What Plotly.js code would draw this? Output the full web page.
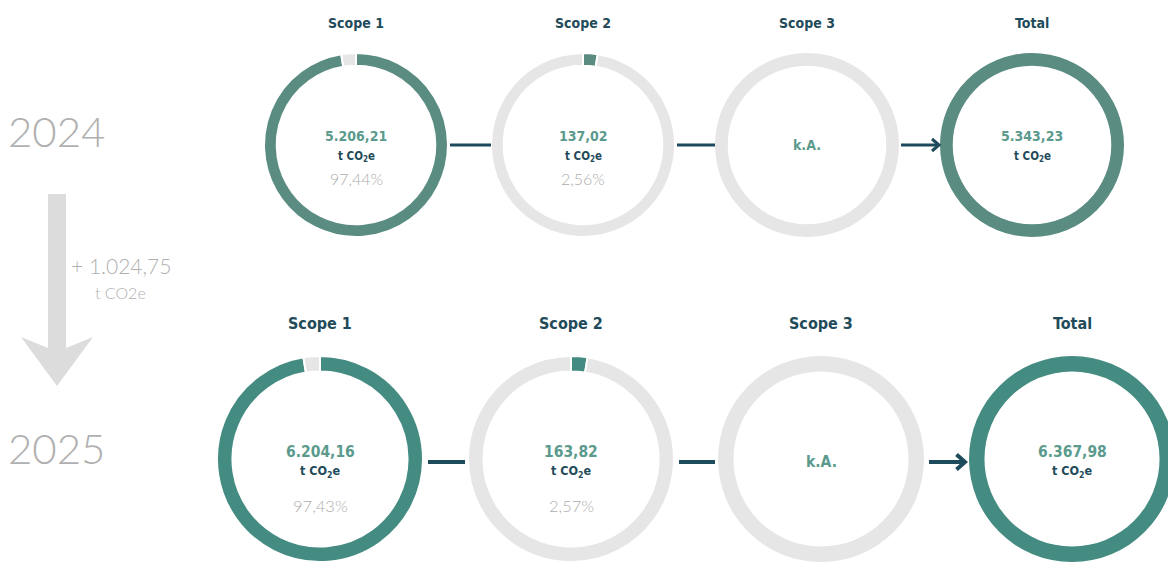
<!DOCTYPE html>
<html>
<head>
<meta charset="utf-8">
<script src="https://cdn.plot.ly/plotly-3.0.1.min.js"></script>
<style>
  html, body { margin: 0; padding: 0; background: #ffffff; overflow: hidden; }
  #chart { width: 1190px; height: 562px; }
</style>
</head>
<body>
<div id="chart"></div>
<script>
// ---- data ----
const scopes = ['Scope 1', 'Scope 2', 'Scope 3', 'Total'];
const years = ['2024', '2025'];
const emissions2024 = [5206.21, 137.02, null, 5343.23];
const emissions2025 = [6204.16, 163.82, null, 6367.98];
const unitLabel = 't CO<sub>2</sub>e';
const deltaUnitLabel = 't CO2e';
const missingLabel = 'k.A.';

// ---- helpers ----
function fmtDE(v, dec) {
  const neg = v < 0;
  const s = Math.abs(v).toFixed(dec);
  let [int, frac] = s.split('.');
  int = int.replace(/\B(?=(\d{3})+(?!\d))/g, '.');
  return (neg ? '-' : '') + int + (frac ? ',' + frac : '');
}

const W = 1190, H = 562;
const rows = [
  { year: years[0], values: emissions2024, cx: [356, 583, 807, 1032], cy: 145, r: 92, hole: 0.862,
    teal: '#5a8c82', titleY: 23, titleSize: 14, valY: 136, valSize: 14, unitY: 156, unitSize: 11.5,
    pctY: 178, pctSize: 16, line: 3, yearY: 131 },
  { year: years[1], values: emissions2025, cx: [320, 571, 821, 1072], cy: 462, r: 106, hole: 0.85,
    teal: '#448b82', titleY: 323, titleSize: 16, valY: 452, valSize: 15.5, unitY: 471, unitSize: 12.5,
    pctY: 506, pctSize: 16.5, line: 4, yearY: 448 }
];
const grey = '#e6e6e6';
const titleColor = '#1f4b5a';
const valueColor = '#5b9a8d';
const unitColor = '#1f4b5a';
const pctColor = '#adadad';
const yearColor = '#b0b0b0';
const connColor = '#1d4b5b';
const DIN = '"DejaVu Sans Condensed", "DejaVu Sans", sans-serif';
const LIGHT = 'Lato, "Open Sans", sans-serif';

const traces = [];
const annotations = [];
const shapes = [];

rows.forEach(row => {
  const total = row.values[3];
  row.values.forEach((v, i) => {
    const share = (v == null) ? 0 : v / total;
    const cx = row.cx[i], cy = row.cy, r = row.r;
    traces.push({
      type: 'pie',
      values: [share, 1 - share],
      labels: ['a', 'b'],
      marker: { colors: [row.teal, grey], line: { color: '#ffffff', width: (share > 0 && share < 1) ? 2 : 0 } },
      hole: row.hole,
      sort: false,
      direction: 'clockwise',
      rotation: 0,
      textinfo: 'none',
      hoverinfo: 'skip',
      showlegend: false,
      domain: { x: [(cx - r) / W, (cx + r) / W], y: [1 - (cy + r) / H, 1 - (cy - r) / H] }
    });
    // title
    annotations.push({ x: cx, y: row.titleY, xref: 'x', yref: 'y', text: '<b>' + scopes[i] + '</b>',
      showarrow: false, font: { family: DIN, size: row.titleSize, color: titleColor }, xanchor: 'center', yanchor: 'middle' });
    if (v == null) {
      annotations.push({ x: cx, y: cy, xref: 'x', yref: 'y', text: '<b>' + missingLabel + '</b>',
        showarrow: false, font: { family: DIN, size: row.valSize, color: valueColor }, xanchor: 'center', yanchor: 'middle' });
    } else {
      annotations.push({ x: cx, y: row.valY, xref: 'x', yref: 'y', text: '<b>' + fmtDE(v, 2) + '</b>',
        showarrow: false, font: { family: DIN, size: row.valSize, color: valueColor }, xanchor: 'center', yanchor: 'middle' });
      annotations.push({ x: cx, y: row.unitY, xref: 'x', yref: 'y', text: '<b>' + unitLabel + '</b>',
        showarrow: false, font: { family: DIN, size: row.unitSize, color: unitColor }, xanchor: 'center', yanchor: 'middle' });
      if (i < 3) {
        annotations.push({ x: cx, y: row.pctY, xref: 'x', yref: 'y', text: fmtDE(share * 100, 2) + '%',
          showarrow: false, font: { family: LIGHT, size: row.pctSize, color: pctColor, weight: 300 }, xanchor: 'center', yanchor: 'middle' });
      }
    }
  });
  // connectors
  for (let i = 0; i < 3; i++) {
    const x0 = row.cx[i] + row.r + 2;
    const x1 = row.cx[i + 1] - row.r - (i === 2 ? 1 : 0);
    shapes.push({ type: 'line', xref: 'x', yref: 'y', x0: x0, x1: x1, y0: row.cy, y1: row.cy,
      line: { color: connColor, width: row.line } });
    if (i === 2) {
      const h = row.line === 3 ? 6 : 7.5, w = row.line === 3 ? 7 : 8.5;
      shapes.push({ type: 'path', xref: 'x', yref: 'y',
        path: `M ${x1 - w} ${row.cy - h} L ${x1} ${row.cy} L ${x1 - w} ${row.cy + h}`,
        line: { color: connColor, width: row.line } });
    }
  }
  // year label
  annotations.push({ x: 56, y: row.yearY, xref: 'x', yref: 'y', text: row.year, showarrow: false,
    font: { family: LIGHT, size: 42, color: yearColor, weight: 300 }, xanchor: 'center', yanchor: 'middle' });
});

// change between years
const delta = emissions2025[3] - emissions2024[3];
annotations.push({ x: 121, y: 265, xref: 'x', yref: 'y', text: (delta >= 0 ? '+ ' : '- ') + fmtDE(Math.abs(delta), 2),
  showarrow: false, font: { family: LIGHT, size: 21, color: yearColor, weight: 300 }, xanchor: 'center', yanchor: 'middle' });
annotations.push({ x: 120, y: 292, xref: 'x', yref: 'y', text: deltaUnitLabel,
  showarrow: false, font: { family: LIGHT, size: 16, color: yearColor, weight: 300 }, xanchor: 'center', yanchor: 'middle' });

// big grey arrow
shapes.push({ type: 'path', xref: 'x', yref: 'y',
  path: 'M 48 194 L 66 194 L 66 348 L 93 337 L 57 386 L 21 337 L 48 348 Z',
  fillcolor: '#dcdcdc', line: { width: 0 } });

const layout = {
  width: W, height: H,
  margin: { l: 0, r: 0, t: 0, b: 0 },
  paper_bgcolor: '#ffffff', plot_bgcolor: 'rgba(0,0,0,0)',
  xaxis: { range: [0, W], visible: false, fixedrange: true },
  yaxis: { range: [H, 0], visible: false, fixedrange: true },
  showlegend: false,
  annotations: annotations,
  shapes: shapes
};

Plotly.newPlot('chart', traces, layout, { displayModeBar: false, staticPlot: true });
</script>
</body>
</html>
